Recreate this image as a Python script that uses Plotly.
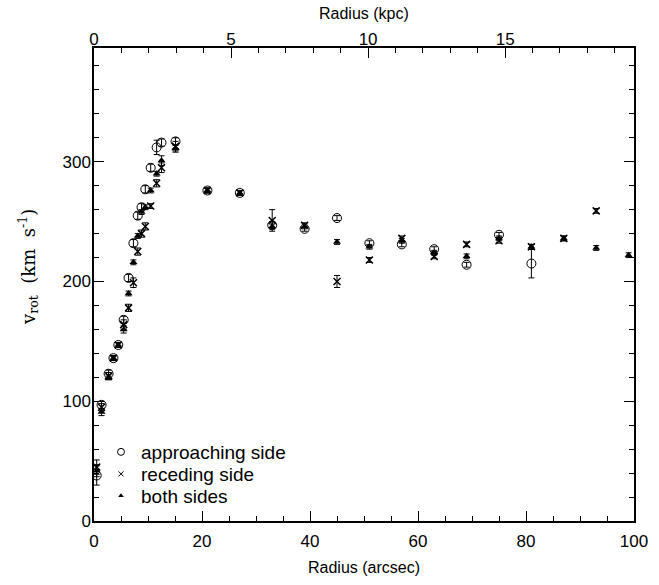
import plotly.graph_objects as go

# ---- data ----
appr_r = [0.5, 1.4, 2.7, 3.6, 4.5, 5.5, 6.4, 7.3, 8.1, 8.8, 9.5, 10.5, 11.6, 12.5, 15.1,
          21, 27, 33, 39, 45, 51, 57, 63, 69, 75, 81]
appr_v = [38, 97, 123, 136, 147, 168, 203, 232, 255, 262, 277, 295, 312, 316, 317,
          276, 274, 247, 244, 253, 232, 231, 227, 214, 239, 215]
appr_e = [8, 3, 3, 2, 2, 3, 3, 3, 3, 3, 3, 3, 6, 3, 3,
          2, 2, 3, 2, 2, 2, 2, 2, 2, 2, 12]

rec_r = [0.5, 1.4, 2.7, 3.6, 4.5, 5.5, 6.4, 7.3, 8.1, 8.8, 9.5, 10.5, 11.6, 12.5, 15.1,
         21, 27, 33, 39, 45, 51, 57, 63, 69, 75, 81, 87, 93]
rec_v = [45, 95, 121, 136, 147, 164, 178, 199, 225, 240, 246, 263, 282, 295, 313,
         276, 274, 251, 247, 200, 218, 236, 221, 231, 234, 229, 236, 259]
rec_e = [6, 3, 3, 2, 2, 4, 3, 4, 3, 3, 3, 2, 3, 4, 4,
         2, 2, 9, 2, 5, 2, 2, 2, 2, 2, 2, 2, 2]

both_r = [0.5, 1.4, 2.7, 3.6, 4.5, 5.5, 6.4, 7.3, 8.1, 8.8, 9.5, 10.5, 11.6, 12.5, 15.1,
          21, 27, 33, 39, 45, 51, 57, 63, 69, 75, 81, 87, 93, 99]
both_v = [42, 91, 120, 136, 147, 160, 190, 216, 238, 258, 262, 276, 290, 301, 311,
          276, 274, 246, 246, 233, 229, 234, 224, 221, 236, 229, 236, 228, 222]
both_e = [5, 3, 2, 2, 2, 3, 2, 2, 2, 2, 2, 2, 2, 4, 3,
          2, 2, 2, 2, 2, 2, 2, 2, 2, 2, 2, 2, 2, 2]

x_ticks = [0, 20, 40, 60, 80, 100]
y_ticks = [0, 100, 200, 300]
kpc_ticks = [0, 5, 10, 15]
kpc_per_arcsec = 0.197

labels = ["approaching side", "receding side", "both sides"]

FONT = "Liberation Sans, Arial, sans-serif"
SERIF = "DejaVu Serif, serif"
fig = go.Figure()

err_style = dict(type="data", color="black", thickness=1, width=3)

fig.add_trace(go.Scatter(
    x=appr_r, y=appr_v, mode="markers", showlegend=False,
    error_y=dict(array=appr_e, **err_style),
    marker=dict(symbol="circle-open", size=9, color="black", line=dict(width=1, color="black"))))
fig.add_trace(go.Scatter(
    x=rec_r, y=rec_v, mode="markers", showlegend=False,
    error_y=dict(array=rec_e, **err_style),
    marker=dict(symbol="x-thin-open", size=7, color="black", line=dict(width=1.5, color="black"))))
fig.add_trace(go.Scatter(
    x=both_r, y=both_v, mode="markers", showlegend=False,
    error_y=dict(array=both_e, **err_style),
    marker=dict(symbol="triangle-up", size=7, color="black")))

# legend entries (one legend per row so spacing can match)
leg_markers = [
    dict(symbol="circle-open", size=7, color="black", line=dict(width=1, color="black")),
    dict(symbol="x-thin-open", size=5, color="black", line=dict(width=1, color="black")),
    dict(symbol="triangle-up", size=5, color="black"),
]
leg_ids = ["legend", "legend2", "legend3"]
for name, m, lid in zip(labels, leg_markers, leg_ids):
    fig.add_trace(go.Scatter(x=[None], y=[None], mode="markers", name=name, marker=m,
                             legend=lid))

# helper traces to activate the top and right axes
for xa, ya in [("x2", "y"), ("x", "y2"), ("x3", "y")]:
    fig.add_trace(go.Scatter(x=[0], y=[0], xaxis=xa, yaxis=ya, mode="markers",
                             marker=dict(opacity=0), showlegend=False, hoverinfo="skip"))

common = dict(showline=True, linecolor="black", linewidth=1.5, ticks="inside",
              tickcolor="black", tickwidth=1.2, showgrid=False, zeroline=False,
              automargin=False,
              tickfont=dict(family=FONT, size=17, color="black"))
minor_common = dict(ticklen=5, ticks="inside", tickcolor="black", tickwidth=1.2)

L, R, T, B = 94, 25, 48, 64
H = 585 - T - B

fig.update_layout(
    width=659, height=585,
    margin=dict(l=L, r=R, t=T, b=B),
    paper_bgcolor="white", plot_bgcolor="white",
    font=dict(family=FONT, size=16, color="black"),
    xaxis=dict(range=[0, 100], tickvals=x_ticks, ticklen=10, ticklabelstandoff=4,
               minor=dict(dtick=5, **minor_common), **common),
    xaxis2=dict(range=[0, 100 * kpc_per_arcsec], overlaying="x", side="top",
                tickvals=kpc_ticks, ticklen=10, anchor="y", showticklabels=False,
                minor=dict(dtick=1, **minor_common), **common),
    # label-only top axis, to place the kpc labels close to the frame
    xaxis3=dict(range=[0, 100 * kpc_per_arcsec], overlaying="x", side="top",
                anchor="free", position=1.0, tickvals=kpc_ticks, ticks="",
                showline=False, showgrid=False, zeroline=False, automargin=False,
                showticklabels=True, ticklabelstandoff=0,
                tickfont=dict(family=FONT, size=17, color="black")),
    yaxis=dict(range=[0, 395], tickvals=y_ticks, ticklen=10, ticklabelstandoff=-2,
               minor=dict(dtick=20, **minor_common), **common),
    yaxis2=dict(range=[0, 395], overlaying="y", side="right", tickvals=y_ticks,
                showticklabels=False, ticklen=10, anchor="x",
                minor=dict(dtick=20, **minor_common), **common),
)

leg_rows_px = [452, 474, 496]
for lid, ypx in zip(leg_ids, leg_rows_px):
    fig.update_layout({lid: dict(x=(101 - L) / (659 - L - R), y=(585 - B - ypx) / H,
                                 xanchor="left", yanchor="middle",
                                 bgcolor="rgba(0,0,0,0)",
                                 font=dict(family=FONT, size=19, color="black"))})

# axis titles
fig.add_annotation(text="Radius (arcsec)", xref="paper", yref="paper",
                   x=0.5, y=(585 - B - 567) / H, xanchor="center", yanchor="middle",
                   showarrow=False, font=dict(family=FONT, size=16, color="black"))
fig.add_annotation(text="Radius (kpc)", xref="paper", yref="paper",
                   x=0.5, y=(585 - B - 13) / H, xanchor="center", yanchor="middle",
                   showarrow=False, font=dict(family=FONT, size=16, color="black"))
fig.add_annotation(text="v<sub>rot</sub>\u00a0\u00a0(km\u00a0\u00a0s<sup>-1</sup>)",
                   xref="paper", yref="paper",
                   x=(28 - L) / (659 - L - R), y=(585 - B - 267) / H,
                   xanchor="center", yanchor="middle", textangle=-90,
                   showarrow=False, font=dict(family=SERIF, size=18, color="black"))

fig.write_html("out.html")
